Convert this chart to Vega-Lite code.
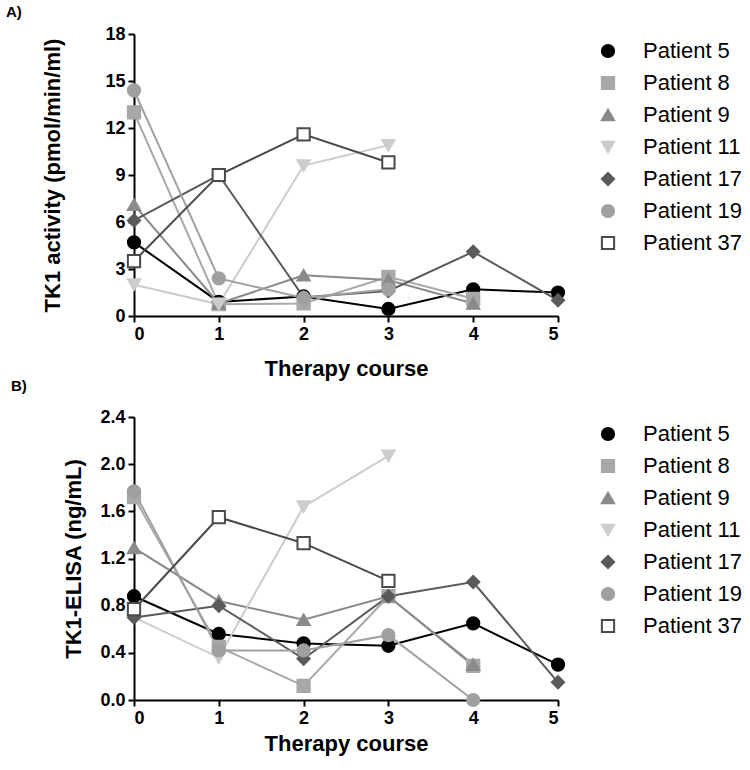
{
  "$schema": "https://vega.github.io/schema/vega-lite/v6.json",
  "padding": {"left": 5, "top": 5, "right": 5, "bottom": 5},
  "spacing": 0,
  "datasets": {
    "tk1": [
      {"patient": "Patient 5", "course": 0, "value": 4.7},
      {"patient": "Patient 5", "course": 1, "value": 0.9},
      {"patient": "Patient 5", "course": 2, "value": 1.25},
      {"patient": "Patient 5", "course": 3, "value": 0.45},
      {"patient": "Patient 5", "course": 4, "value": 1.7},
      {"patient": "Patient 5", "course": 5, "value": 1.5},
      {"patient": "Patient 8", "course": 0, "value": 13.0},
      {"patient": "Patient 8", "course": 1, "value": 0.75},
      {"patient": "Patient 8", "course": 2, "value": 0.8},
      {"patient": "Patient 8", "course": 3, "value": 2.5},
      {"patient": "Patient 8", "course": 4, "value": 1.1},
      {"patient": "Patient 9", "course": 0, "value": 7.1},
      {"patient": "Patient 9", "course": 1, "value": 0.8},
      {"patient": "Patient 9", "course": 2, "value": 2.6},
      {"patient": "Patient 9", "course": 3, "value": 2.3},
      {"patient": "Patient 9", "course": 4, "value": 0.8},
      {"patient": "Patient 11", "course": 0, "value": 2.0},
      {"patient": "Patient 11", "course": 1, "value": 0.75},
      {"patient": "Patient 11", "course": 2, "value": 9.6},
      {"patient": "Patient 11", "course": 3, "value": 10.9},
      {"patient": "Patient 17", "course": 0, "value": 6.1},
      {"patient": "Patient 17", "course": 1, "value": 9.0},
      {"patient": "Patient 17", "course": 2, "value": 1.2},
      {"patient": "Patient 17", "course": 3, "value": 1.6},
      {"patient": "Patient 17", "course": 4, "value": 4.1},
      {"patient": "Patient 17", "course": 5, "value": 1.0},
      {"patient": "Patient 19", "course": 0, "value": 14.4},
      {"patient": "Patient 19", "course": 1, "value": 2.4},
      {"patient": "Patient 19", "course": 2, "value": 1.15},
      {"patient": "Patient 19", "course": 3, "value": 1.7},
      {"patient": "Patient 37", "course": 0, "value": 3.5},
      {"patient": "Patient 37", "course": 1, "value": 9.0},
      {"patient": "Patient 37", "course": 2, "value": 11.6},
      {"patient": "Patient 37", "course": 3, "value": 9.8}
    ],
    "elisa": [
      {"patient": "Patient 5", "course": 0, "value": 0.88},
      {"patient": "Patient 5", "course": 1, "value": 0.56},
      {"patient": "Patient 5", "course": 2, "value": 0.48},
      {"patient": "Patient 5", "course": 3, "value": 0.46},
      {"patient": "Patient 5", "course": 4, "value": 0.65},
      {"patient": "Patient 5", "course": 5, "value": 0.30},
      {"patient": "Patient 8", "course": 0, "value": 1.72},
      {"patient": "Patient 8", "course": 1, "value": 0.45},
      {"patient": "Patient 8", "course": 2, "value": 0.12},
      {"patient": "Patient 8", "course": 3, "value": 0.88},
      {"patient": "Patient 8", "course": 4, "value": 0.29},
      {"patient": "Patient 9", "course": 0, "value": 1.29},
      {"patient": "Patient 9", "course": 1, "value": 0.84},
      {"patient": "Patient 9", "course": 2, "value": 0.68},
      {"patient": "Patient 9", "course": 3, "value": 0.88},
      {"patient": "Patient 9", "course": 4, "value": 0.30},
      {"patient": "Patient 11", "course": 0, "value": 0.70},
      {"patient": "Patient 11", "course": 1, "value": 0.36},
      {"patient": "Patient 11", "course": 2, "value": 1.64},
      {"patient": "Patient 11", "course": 3, "value": 2.07},
      {"patient": "Patient 17", "course": 0, "value": 0.70},
      {"patient": "Patient 17", "course": 1, "value": 0.80},
      {"patient": "Patient 17", "course": 2, "value": 0.35},
      {"patient": "Patient 17", "course": 3, "value": 0.88},
      {"patient": "Patient 17", "course": 4, "value": 1.00},
      {"patient": "Patient 17", "course": 5, "value": 0.15},
      {"patient": "Patient 19", "course": 0, "value": 1.77},
      {"patient": "Patient 19", "course": 1, "value": 0.42},
      {"patient": "Patient 19", "course": 2, "value": 0.42},
      {"patient": "Patient 19", "course": 3, "value": 0.55},
      {"patient": "Patient 19", "course": 4, "value": 0.0},
      {"patient": "Patient 37", "course": 0, "value": 0.77},
      {"patient": "Patient 37", "course": 1, "value": 1.55},
      {"patient": "Patient 37", "course": 2, "value": 1.33},
      {"patient": "Patient 37", "course": 3, "value": 1.01}
    ]
  },
  "vconcat": [
    {
      "title": {"text": "A)", "anchor": "start", "frame": "bounds", "fontSize": 15, "fontWeight": "bold", "dx": -36, "offset": 5},
      "width": 424,
      "height": 282,
      "data": {"name": "tk1"},
      "encoding": {
        "x": {"field": "course", "type": "quantitative", "scale": {"domain": [0, 5], "nice": false}, "axis": {"values": [0, 1, 2, 3, 4, 5], "title": "Therapy course", "titlePadding": 15}},
        "y": {"field": "value", "type": "quantitative", "scale": {"domain": [0, 18], "nice": false}, "axis": {"values": [0, 3, 6, 9, 12, 15, 18], "title": "TK1 activity (pmol/min/ml)", "titlePadding": 40}},
        "stroke": {"field": "patient", "type": "nominal", "title": null,
          "scale": {"domain": ["Patient 5", "Patient 8", "Patient 9", "Patient 11", "Patient 17", "Patient 19", "Patient 37"],
                    "range": ["#000000", "#a8a8a8", "#8a8a8a", "#cccccc", "#5a5a5a", "#a0a0a0", "#4a4a4a"]}}
      },
      "layer": [
        {"mark": {"type": "line", "strokeWidth": 2}, "encoding": {}},
        {"mark": {"type": "point", "filled": true, "size": 150, "strokeWidth": 2, "opacity": 1},
         "encoding": {
           "shape": {"field": "patient", "type": "nominal", "title": null,
             "scale": {"domain": ["Patient 5", "Patient 8", "Patient 9", "Patient 11", "Patient 17", "Patient 19", "Patient 37"],
                       "range": ["circle", "square", "triangle-up", "triangle-down", "diamond", "circle", "square"]}},
           "fill": {"field": "patient", "type": "nominal", "title": null,
             "scale": {"domain": ["Patient 5", "Patient 8", "Patient 9", "Patient 11", "Patient 17", "Patient 19", "Patient 37"],
                       "range": ["#000000", "#a8a8a8", "#8a8a8a", "#cccccc", "#5a5a5a", "#a0a0a0", "#ffffff"]}}
         }}
      ]
    },
    {
      "title": {"text": "B)", "anchor": "start", "frame": "bounds", "fontSize": 15, "fontWeight": "bold", "dx": -52, "offset": 14},
      "width": 424,
      "height": 283,
      "data": {"name": "elisa"},
      "encoding": {
        "x": {"field": "course", "type": "quantitative", "scale": {"domain": [0, 5], "nice": false}, "axis": {"values": [0, 1, 2, 3, 4, 5], "title": "Therapy course", "titlePadding": 6}},
        "y": {"field": "value", "type": "quantitative", "scale": {"domain": [0, 2.4], "nice": false}, "axis": {"values": [0, 0.4, 0.8, 1.2, 1.6, 2.0, 2.4], "format": ".1f", "title": "TK1-ELISA (ng/mL)", "titlePadding": 14}},
        "stroke": {"field": "patient", "type": "nominal", "title": null,
          "scale": {"domain": ["Patient 5", "Patient 8", "Patient 9", "Patient 11", "Patient 17", "Patient 19", "Patient 37"],
                    "range": ["#000000", "#a8a8a8", "#8a8a8a", "#cccccc", "#5a5a5a", "#a0a0a0", "#4a4a4a"]}}
      },
      "layer": [
        {"mark": {"type": "line", "strokeWidth": 2}, "encoding": {}},
        {"mark": {"type": "point", "filled": true, "size": 150, "strokeWidth": 2, "opacity": 1},
         "encoding": {
           "shape": {"field": "patient", "type": "nominal", "title": null,
             "scale": {"domain": ["Patient 5", "Patient 8", "Patient 9", "Patient 11", "Patient 17", "Patient 19", "Patient 37"],
                       "range": ["circle", "square", "triangle-up", "triangle-down", "diamond", "circle", "square"]}},
           "fill": {"field": "patient", "type": "nominal", "title": null,
             "scale": {"domain": ["Patient 5", "Patient 8", "Patient 9", "Patient 11", "Patient 17", "Patient 19", "Patient 37"],
                       "range": ["#000000", "#a8a8a8", "#8a8a8a", "#cccccc", "#5a5a5a", "#a0a0a0", "#ffffff"]}}
         }}
      ]
    }
  ],
  "resolve": {
    "scale": {"stroke": "independent", "fill": "independent", "shape": "independent"},
    "legend": {"stroke": "independent", "fill": "independent", "shape": "independent"}
  },
  "config": {
    "font": "Liberation Sans",
    "view": {"stroke": null},
    "title": {"color": "#000", "font": "Liberation Sans"},
    "axis": {
      "grid": false,
      "domainColor": "#000", "domainWidth": 2,
      "tickColor": "#000", "tickWidth": 2, "tickSize": 6,
      "labelFont": "Liberation Sans", "labelFontSize": 18, "labelFontWeight": "bold", "labelColor": "#000", "labelPadding": 3,
      "titleFont": "Liberation Sans", "titleFontSize": 22, "titleFontWeight": "bold", "titleColor": "#000"
    },
    "legend": {
      "orient": "right", "offset": 29, "padding": 6,
      "labelFont": "Liberation Sans", "labelFontSize": 22, "labelColor": "#000", "labelOffset": 24,
      "symbolSize": 150, "symbolStrokeWidth": 2, "rowPadding": 10
    }
  }
}
